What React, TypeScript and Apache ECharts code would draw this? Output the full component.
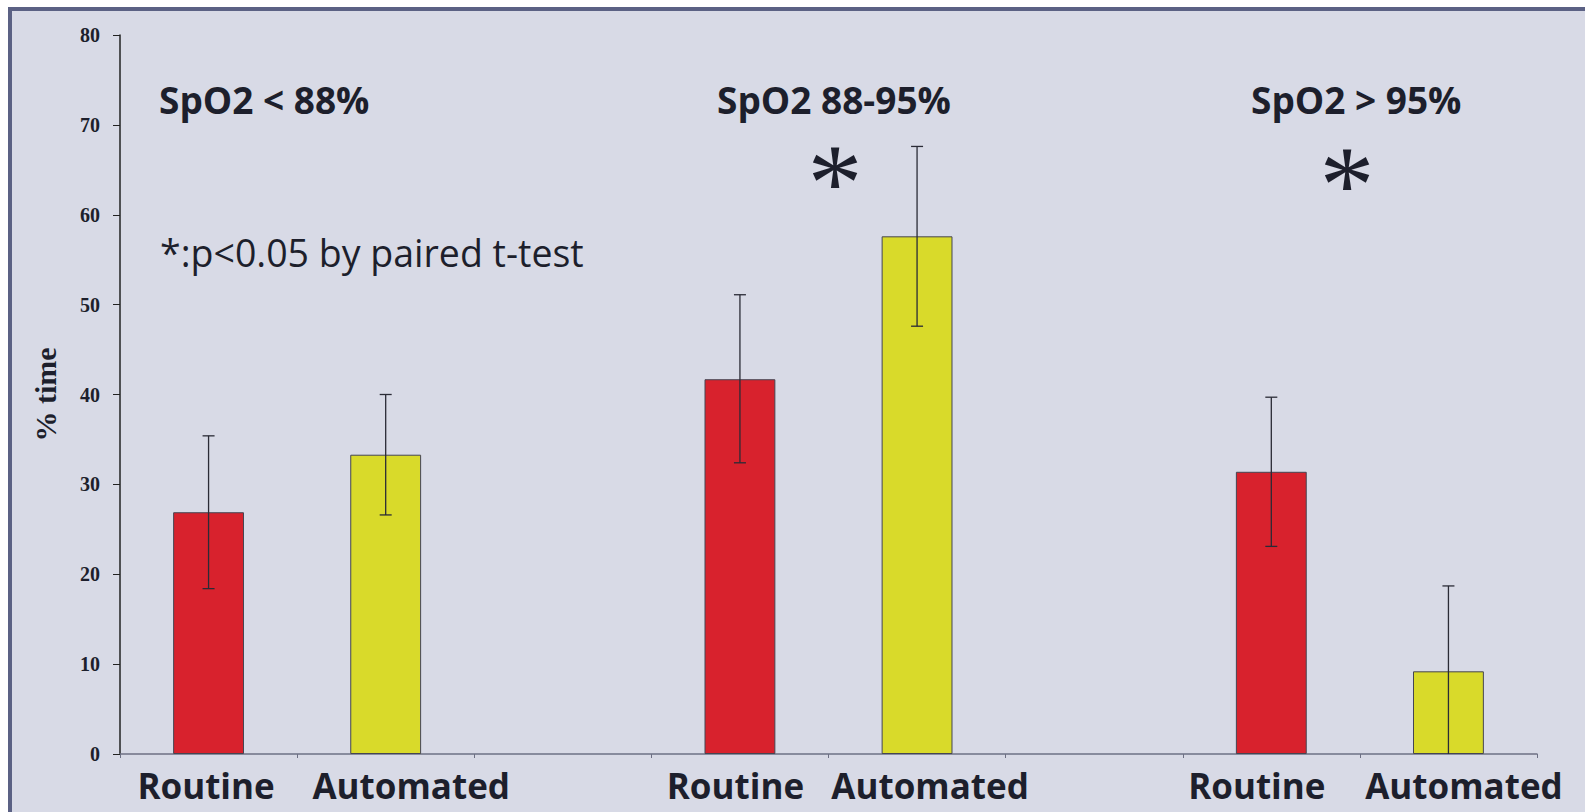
import React, { useEffect, useRef } from "react";
import * as echarts from "echarts";

const categories = ["Routine", "Automated", "", "Routine", "Automated", "", "Routine", "Automated"];
const meanValues = [26.9, 33.3, null, 41.7, 57.6, null, 31.4, 9.2];
const errorLow = [18.4, 26.6, null, 32.4, 47.6, null, 23.1, 0];
const errorHigh = [35.4, 40.0, null, 51.1, 67.6, null, 39.7, 18.7];
const yTicks = { min: 0, max: 80, interval: 10 };
const groupTitles = ["SpO2 < 88%", "SpO2 88-95%", "SpO2 > 95%"];
const footnote = "*:p<0.05 by paired t-test";

const RED = "#d8222d";
const YELLOW = "#d9da2a";
const TEXT = "#1d1f2c";
const SANS = "'Open Sans', sans-serif";
const SERIF = "'Liberation Serif', 'Times New Roman', serif";

// horizontal label offsets (px) per category slot, matching the original slide layout
const labelPads: Array<[number, number]> = [
  [0, 5], [51, 0], [0, 0], [0, 9], [26, 0], [0, 0], [0, 29], [31, 0],
];

export default function App() {
  const ref = useRef<HTMLDivElement>(null);
  useEffect(() => {
    if (!ref.current) return;
    const chart = echarts.init(ref.current, null, { renderer: "svg" });
    const barData = meanValues.map((v, i) =>
      v == null
        ? "-"
        : {
            value: v,
            itemStyle: { color: categories[i] === "Routine" ? RED : YELLOW },
          }
    );
    const errData = meanValues
      .map((v, i) => (v == null ? null : [i, errorLow[i], errorHigh[i]]))
      .filter((d) => d != null);

    const rich: any = {};
    labelPads.forEach(([l, r], i) => {
      rich["l" + i] = {
        fontFamily: SANS,
        fontWeight: "bold",
        fontSize: 35,
        color: TEXT,
        padding: [0, r, 0, l],
      };
    });

    chart.setOption({
      animation: false,
      backgroundColor: "transparent",
      grid: { left: 108, right: 48, top: 24, bottom: 58 },
      xAxis: {
        type: "category",
        data: categories,
        boundaryGap: true,
        axisLine: { lineStyle: { color: "#6d7084", width: 1.5 } },
        axisTick: { show: true, length: 4, lineStyle: { color: "#6d7084" } },
        axisLabel: {
          interval: 0,
          margin: 14,
          formatter: (v: string, i: number) => (v ? "{l" + i + "|" + v + "}" : ""),
          rich,
        },
        splitLine: { show: false },
      },
      yAxis: {
        type: "value",
        min: yTicks.min,
        max: yTicks.max,
        interval: yTicks.interval,
        name: "% time",
        nameLocation: "middle",
        nameRotate: 90,
        nameGap: 60,
        nameTextStyle: {
          fontFamily: SERIF,
          fontWeight: "bold",
          fontSize: 30,
          color: TEXT,
        },
        axisLine: { show: true, lineStyle: { color: "#222", width: 1.5 } },
        axisTick: { show: true, length: 7, lineStyle: { color: "#222" } },
        axisLabel: {
          margin: 20,
          fontFamily: SERIF,
          fontWeight: "bold",
          fontSize: 20,
          color: TEXT,
        },
        splitLine: { show: false },
      },
      series: [
        {
          type: "bar",
          data: barData,
          barWidth: "40%",
          itemStyle: { borderColor: "#454552", borderWidth: 1 },
        },
        {
          type: "custom",
          data: errData,
          encode: { x: 0, y: [1, 2] },
          z: 10,
          renderItem: (params: any, api: any) => {
            const idx = api.value(0);
            const lo = api.coord([idx, api.value(1)]);
            const hi = api.coord([idx, api.value(2)]);
            const hw = 6;
            const style = { stroke: "#2a2b36", lineWidth: 1.3 };
            const children: any[] = [
              { type: "line", shape: { x1: lo[0], y1: hi[1], x2: lo[0], y2: lo[1] }, style },
              { type: "line", shape: { x1: hi[0] - hw, y1: hi[1], x2: hi[0] + hw, y2: hi[1] }, style },
            ];
            if (api.value(1) > 0) {
              children.push({
                type: "line",
                shape: { x1: lo[0] - hw, y1: lo[1], x2: lo[0] + hw, y2: lo[1] },
                style,
              });
            }
            return { type: "group", children };
          },
        },
      ],
      graphic: [
        {
          type: "text",
          left: 147,
          top: 70,
          style: { text: groupTitles[0], font: `bold 37px ${SANS}`, fill: TEXT },
        },
        {
          type: "text",
          left: 705,
          top: 70,
          style: { text: groupTitles[1], font: `bold 37px ${SANS}`, fill: TEXT },
        },
        {
          type: "text",
          left: 1239,
          top: 70,
          style: { text: groupTitles[2], font: `bold 37px ${SANS}`, fill: TEXT },
        },
        {
          type: "text",
          left: 148,
          top: 222,
          style: { text: footnote, font: `37.5px ${SANS}`, fill: TEXT },
        },
        {
          type: "text",
          x: 823,
          y: 172,
          style: {
            text: "*",
            font: `110px ${SERIF}`,
            fill: TEXT,
            align: "center",
            verticalAlign: "middle",
          },
        },
        {
          type: "text",
          x: 1335,
          y: 174,
          style: {
            text: "*",
            font: `110px ${SERIF}`,
            fill: TEXT,
            align: "center",
            verticalAlign: "middle",
          },
        },
      ],
    });
    return () => chart.dispose();
  }, []);

  return (
    <div
      style={{
        position: "fixed",
        left: 0,
        top: 0,
        width: 1585,
        height: 812,
        background: "#ffffff",
        overflow: "hidden",
      }}
    >
      <div
        style={{
          position: "absolute",
          left: 8,
          top: 7,
          width: 1577,
          height: 805,
          boxSizing: "border-box",
          borderTop: "4px solid #5b6184",
          borderLeft: "4px solid #5b6184",
          background: "#d8dae6",
        }}
      >
        <div ref={ref} style={{ width: 1573, height: 801 }} />
      </div>
    </div>
  );
}
